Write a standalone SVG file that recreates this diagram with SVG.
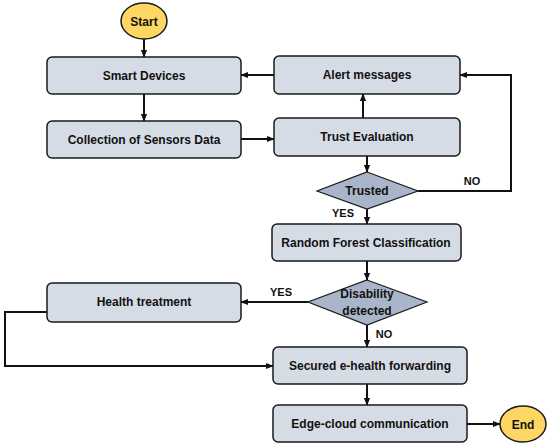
<svg xmlns="http://www.w3.org/2000/svg" width="550" height="447" viewBox="0 0 550 447">
<style>
.box{fill:#d6dce5;stroke:#1a1a1a;stroke-width:1.5}
.term{fill:#fdd663;stroke:#1a1a1a;stroke-width:1.5}
.dia{fill:#a9b6c9;stroke:#1a1a1a;stroke-width:1.2}
.t{font-family:"Liberation Sans",Arial,sans-serif;font-weight:bold;font-size:12px;fill:#111;text-anchor:middle;dominant-baseline:central}
.lbl{font-family:"Liberation Sans",Arial,sans-serif;font-weight:bold;font-size:11px;fill:#111;text-anchor:middle;dominant-baseline:central}
.c{fill:none;stroke:#111;stroke-width:2;marker-end:url(#ah)}
.cn{fill:none;stroke:#111;stroke-width:2}
</style>
<defs>
<marker id="ah" viewBox="0 0 10 10" refX="9" refY="5" markerWidth="4" markerHeight="4" orient="auto" markerUnits="strokeWidth">
<path d="M0,1 L10,5 L0,9 z" fill="#111"/>
</marker>
</defs>
<rect width="550" height="447" fill="#fff"/>
<g id="connectors">
<path class="c" d="M144,39 V57"/>
<path class="c" d="M144,94 V121"/>
<path class="c" d="M241,139 H274"/>
<path class="c" d="M363,118 V94"/>
<path class="c" d="M274,75 H241"/>
<path class="c" d="M367,156 V172"/>
<path class="c" d="M418,191 H511 V75 H460"/>
<path class="c" d="M367,209 V224"/>
<path class="c" d="M367,261 V280"/>
<path class="c" d="M308,302 H241"/>
<path class="c" d="M367,325 V347"/>
<path class="c" d="M47,312 H5 V366 H273"/>
<path class="c" d="M367,384 V405"/>
<path class="c" d="M467,424 H500"/>
<text class="lbl" x="472" y="181">NO</text>
<text class="lbl" x="343" y="213">YES</text>
<text class="lbl" x="281" y="292">YES</text>
<text class="lbl" x="384" y="334">NO</text>
</g>
<g id="start"><ellipse class="term" cx="144" cy="21" rx="23" ry="18"/><text class="t" x="144" y="22">Start</text></g>
<g id="smart-devices"><rect class="box" x="47" y="57" width="194" height="37" rx="5"/><text class="t" x="144" y="76">Smart Devices</text></g>
<g id="collection"><rect class="box" x="47" y="121" width="194" height="37" rx="5"/><text class="t" x="144" y="140">Collection of Sensors Data</text></g>
<g id="alert"><rect class="box" x="274" y="56" width="186" height="38" rx="5"/><text class="t" x="367" y="75">Alert messages</text></g>
<g id="trust-eval"><rect class="box" x="274" y="118" width="186" height="38" rx="5"/><text class="t" x="367" y="137">Trust Evaluation</text></g>
<g id="trusted"><polygon class="dia" points="367,172 418,191 367,209 317,191"/><text class="t" x="367" y="191">Trusted</text></g>
<g id="random-forest"><rect class="box" x="272" y="224" width="189" height="37" rx="5"/><text class="t" x="366" y="243">Random Forest Classification</text></g>
<g id="disability"><polygon class="dia" points="367,280 427,302 367,325 308,302"/><text class="t" x="367" y="294">Disability</text><text class="t" x="367" y="311">detected</text></g>
<g id="health"><rect class="box" x="47" y="283" width="194" height="39" rx="5"/><text class="t" x="144" y="302">Health treatment</text></g>
<g id="secured"><rect class="box" x="273" y="347" width="194" height="37" rx="5"/><text class="t" x="370" y="366">Secured e-health forwarding</text></g>
<g id="edge-cloud"><rect class="box" x="273" y="405" width="194" height="37" rx="5"/><text class="t" x="370" y="424">Edge-cloud communication</text></g>
<g id="end"><ellipse class="term" cx="523" cy="424" rx="23" ry="18"/><text class="t" x="523" y="425">End</text></g>
</svg>
